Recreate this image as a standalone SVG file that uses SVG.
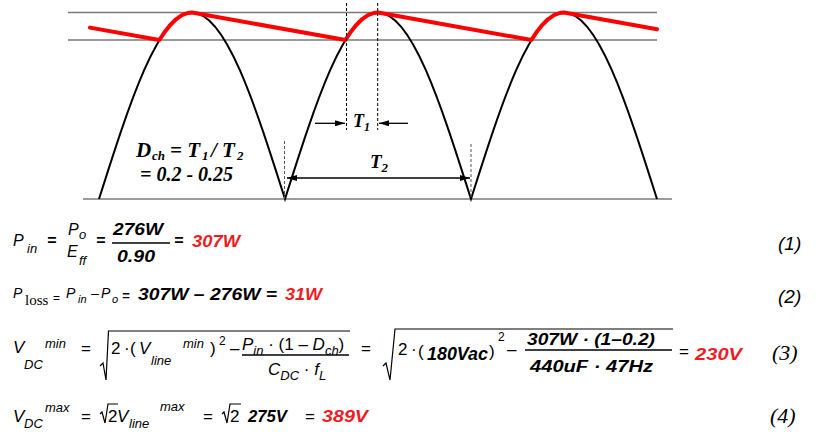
<svg xmlns="http://www.w3.org/2000/svg" width="816" height="448" viewBox="0 0 816 448">
<defs>
<marker id="ah" viewBox="0 0 10 6" refX="10" refY="3" markerWidth="10" markerHeight="6" orient="auto-start-reverse" markerUnits="userSpaceOnUse"><path d="M0,0 L10,3 L0,6 z" fill="#000"/></marker>
<style>
.grid{stroke:#7a7a7a;stroke-width:1.6;fill:none}
.wave{stroke:#000;stroke-width:2;fill:none}
.ripple{stroke:#ff0000;stroke-width:4;fill:none;stroke-linejoin:round;stroke-linecap:round}
.dash{stroke:#000;stroke-width:1;stroke-dasharray:3 2;fill:none}
.gdash{stroke:#555;stroke-width:1;stroke-dasharray:3 2;fill:none}
.dim{stroke:#000;stroke-width:1.3;fill:none}
.lbl{font-family:"Liberation Serif","Times New Roman",serif;font-weight:bold;font-style:italic;fill:#000}
.m{font-family:"Liberation Sans",Arial,sans-serif;font-style:italic;fill:#000}
.n{font-family:"Liberation Sans",Arial,sans-serif;fill:#000}
.b{font-family:"Liberation Sans",Arial,sans-serif;font-style:italic;font-weight:bold;fill:#000}
.r{fill:#ed1c24}
.t{font-family:"Liberation Serif","Times New Roman",serif;font-style:italic;fill:#000}
.bar{stroke:#000;stroke-width:1.3}
.rad{stroke:#000;stroke-width:1.2;fill:none}
</style>
</defs>
<g id="grid">
<line class="grid" x1="68" y1="12.5" x2="657" y2="12.5"/>
<line class="grid" x1="68" y1="40" x2="657" y2="40"/>
<line class="grid" x1="83" y1="199" x2="672" y2="199"/>
</g>
<g id="waveform">
<path class="wave" d="M99,199 C129.33,103.5 158.34,12.5 192,12.5 C225.66,12.5 254.67,103.5 285,199 C315.33,103.5 344.34,12.5 378,12.5 C411.66,12.5 440.67,103.5 471,199 C501.33,103.5 530.34,12.5 564,12.5 C597.66,12.5 626.67,103.5 657,199"/>
</g>
<g id="ripple">
<path class="ripple" d="M90,27.6 L159.4,40 L164.1,32.8 L170,25.2 L176,19.3 L181.9,15.2 L187.8,13 L192,12.5 L345.4,40 L350.1,32.8 L356,25.2 L362,19.3 L367.9,15.2 L373.8,13 L378,12.5 L531.4,40 L536.1,32.8 L542,25.2 L548,19.3 L553.9,15.2 L559.8,13 L564,12.5 L657,29.2"/>
</g>
<g id="markers">
<line class="dash" x1="346.5" y1="3" x2="346.5" y2="130"/>
<line class="dash" x1="377.7" y1="3" x2="377.7" y2="130"/>
<line class="gdash" x1="284.5" y1="141" x2="284.5" y2="199"/>
<line class="gdash" x1="471" y1="144" x2="471" y2="199"/>
</g>
<g id="connectors">
<line class="dim" x1="315" y1="123.3" x2="345" y2="123.3" marker-end="url(#ah)"/>
<line class="dim" x1="408" y1="123.3" x2="379" y2="123.3" marker-end="url(#ah)"/>
<line class="dim" x1="287" y1="178" x2="470" y2="178" marker-start="url(#ah)" marker-end="url(#ah)"/>
</g>
<g id="labels">
<text class="lbl" x="353" y="127" font-size="18">T<tspan font-size="12" dy="4">1</tspan></text>
<text class="lbl" x="370" y="168" font-size="19">T<tspan font-size="13" dy="4">2</tspan></text>
<text class="lbl" x="136" y="157" font-size="21">D</text>
<text class="lbl" x="152" y="160" font-size="13">ch</text>
<text class="lbl" x="170" y="157" font-size="21">= T</text>
<text class="lbl" x="202" y="160" font-size="13">1</text>
<text class="lbl" x="211" y="157" font-size="21">/ T</text>
<text class="lbl" x="237" y="160" font-size="13">2</text>
<text class="lbl" x="140" y="181" font-size="20">= 0.2 - 0.25</text>
</g>
<g id="eq1">
<text class="m" x="13" y="246" font-size="16">P</text>
<text class="m" x="27" y="253" font-size="13">in</text>
<text class="b" x="47" y="246" font-size="16">=</text>
<text class="m" x="68" y="235" font-size="16">P</text>
<text class="m" x="79" y="239" font-size="13">o</text>
<text class="m" x="67" y="257" font-size="16">E</text>
<text class="m" x="79" y="265" font-size="13">ff</text>
<text class="b" x="96" y="246" font-size="16">=</text>
<text class="b" x="113" y="235" font-size="17" textLength="50" lengthAdjust="spacingAndGlyphs">276W</text>
<line class="bar" x1="112" y1="243" x2="170" y2="243"/>
<text class="b" x="117" y="262" font-size="17" textLength="38" lengthAdjust="spacingAndGlyphs">0.90</text>
<text class="b" x="174" y="246" font-size="16">=</text>
<text class="b r" x="192" y="247" font-size="17" textLength="48" lengthAdjust="spacingAndGlyphs">307W</text>
<text class="m" x="778" y="250" font-size="19">(1)</text>
</g>
<g id="eq2">
<text class="m" x="13" y="298" font-size="14">P</text>
<text font-family="Liberation Serif, Times New Roman, serif" x="25" y="305" font-size="15">loss</text>
<text class="n" x="53" y="302" font-size="12">=</text>
<text class="m" x="66" y="298" font-size="14">P</text>
<text class="m" x="78" y="303" font-size="11">in</text>
<text class="n" x="91" y="298" font-size="14">–</text>
<text class="m" x="101" y="298" font-size="14">P</text>
<text class="m" x="112" y="303" font-size="11">o</text>
<text class="b" x="122" y="300" font-size="13">=</text>
<text class="b" x="138" y="300" font-size="17" textLength="139" lengthAdjust="spacingAndGlyphs">307W – 276W =</text>
<text class="b r" x="285" y="300" font-size="17" textLength="37" lengthAdjust="spacingAndGlyphs">31W</text>
<text class="m" x="778" y="303" font-size="19">(2)</text>
</g>
<g id="eq3">
<text class="m" x="13" y="353" font-size="17">V</text>
<text class="m" x="24" y="369" font-size="13">DC</text>
<text class="m" x="45" y="348" font-size="13">min</text>
<text class="n" x="81" y="354" font-size="17">=</text>
<path class="rad" d="M100,366 L103,363 L106,380 L108.5,331 L350,331"/>
<text class="n" x="111" y="354" font-size="17">2</text>
<text class="n" x="124" y="354" font-size="17">·</text>
<text class="n" x="130" y="354" font-size="17">(</text>
<text class="m" x="139" y="354" font-size="17">V</text>
<text class="m" x="151" y="365" font-size="13">line</text>
<text class="m" x="183" y="348" font-size="13">min</text>
<text class="n" x="210" y="354" font-size="17">)</text>
<text class="n" x="219" y="345" font-size="12">2</text>
<text class="n" x="230" y="354" font-size="17">–</text>
<text class="m" x="242" y="350" font-size="17">P<tspan font-size="13" dy="5">in</tspan><tspan font-style="normal" dy="-5"> · (1 – </tspan>D<tspan font-size="13" dy="5">ch</tspan><tspan font-style="normal" dy="-5">)</tspan></text>
<line class="bar" x1="242" y1="355" x2="349" y2="355"/>
<text class="m" x="268" y="375" font-size="17">C<tspan font-size="13" dy="5">DC</tspan><tspan font-style="normal" dy="-5"> · </tspan>f<tspan font-size="13" dy="5">L</tspan></text>
<text class="n" x="361" y="354" font-size="17">=</text>
<path class="rad" d="M383,366 L386,363 L390,380 L395,329 L673,329"/>
<text class="n" x="398" y="355" font-size="17">2</text>
<text class="n" x="411" y="355" font-size="17">·</text>
<text class="n" x="418" y="357" font-size="17">(</text>
<text class="b" x="427" y="360" font-size="18" textLength="61" lengthAdjust="spacingAndGlyphs">180Vac</text>
<text class="n" x="489" y="357" font-size="17">)</text>
<text class="n" x="498" y="341" font-size="12">2</text>
<text class="n" x="507" y="355" font-size="17">–</text>
<text class="b" x="527" y="345" font-size="16" textLength="128" lengthAdjust="spacingAndGlyphs">307W · (1–0.2)</text>
<line class="bar" x1="525" y1="350" x2="672" y2="350"/>
<text class="b" x="530" y="372" font-size="16" textLength="123" lengthAdjust="spacingAndGlyphs">440uF · 47Hz</text>
<text class="n" x="679" y="357" font-size="17">=</text>
<text class="b r" x="695" y="360" font-size="17" textLength="47" lengthAdjust="spacingAndGlyphs">230V</text>
<text class="t" x="772" y="360" font-size="22">(3)</text>
</g>
<g id="eq4">
<text class="m" x="13" y="422" font-size="17">V</text>
<text class="m" x="24" y="428" font-size="13">DC</text>
<text class="m" x="45" y="412" font-size="13">max</text>
<text class="n" x="81" y="422" font-size="17">=</text>
<path class="rad" d="M100,414 L102,412 L105,423 L108,404 L118,404"/>
<text class="n" x="108" y="422" font-size="17">2</text>
<text class="m" x="117" y="422" font-size="17">V</text>
<text class="m" x="129" y="428" font-size="13">line</text>
<text class="m" x="160" y="411" font-size="13">max</text>
<text class="n" x="203" y="422" font-size="17">=</text>
<path class="rad" d="M222,414 L224,412 L227,423 L230,404 L241,404"/>
<text class="n" x="230" y="422" font-size="17">2</text>
<text class="b" x="248" y="422" font-size="17" textLength="39" lengthAdjust="spacingAndGlyphs">275V</text>
<text class="n" x="305" y="422" font-size="17">=</text>
<text class="b r" x="322" y="422" font-size="17" textLength="46" lengthAdjust="spacingAndGlyphs">389V</text>
<text class="t" x="770" y="423" font-size="22">(4)</text>
</g>
</svg>
